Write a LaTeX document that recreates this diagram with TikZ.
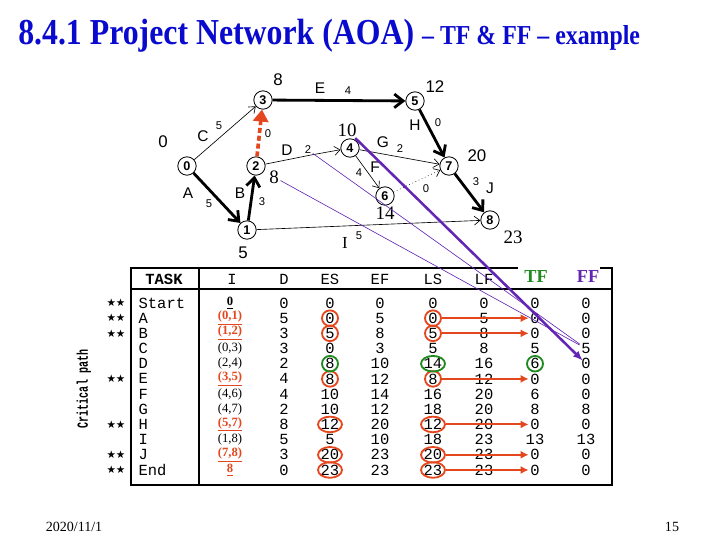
\documentclass[tikz,border=0pt]{standalone}
\usepackage{fontspec}
\setmainfont{Liberation Serif}
\setsansfont{Liberation Sans}
\setmonofont{Liberation Mono}
\newfontfamily\symfont{DejaVu Sans}
\usepackage{tikz}
\usetikzlibrary{arrows.meta,positioning,shapes.geometric}
\definecolor{TitleBlue}{HTML}{0A0ACF}
\definecolor{RedOr}{HTML}{E4471E}
\definecolor{GreenC}{HTML}{1F8A1F}
\definecolor{PurpleC}{HTML}{6326B4}
\newcommand{\critid}[1]{\textcolor{RedOr}{\textbf{\underline{#1}}}}
\tikzset{
  evtnode/.style={circle, draw, line width=0.6pt, minimum size=4.6mm, inner sep=0pt, fill=white, font=\sffamily\bfseries\fontsize{9}{9}\selectfont},
  timesans/.style={inner sep=1pt, font=\sffamily\fontsize{12}{12}\selectfont},
  timeserif/.style={inner sep=1pt, font=\fontsize{13.5}{13.5}\selectfont},
  actlbl/.style={inner sep=1pt, font=\sffamily\fontsize{11}{11}\selectfont},
  durlbl/.style={inner sep=1pt, font=\sffamily\fontsize{8}{8}\selectfont},
  critarrow/.style={-{Straight Barb[length=2.2mm,width=3.4mm]}, line width=2pt},
  thinarrow/.style={-{Straight Barb[length=1.4mm,width=2.2mm]}, line width=0.45pt},
  dummyarrow/.style={-{Triangle[length=3mm,width=3.8mm]}, line width=2.6pt, draw=RedOr, dash pattern=on 3.6pt off 2pt},
  hdrcell/.style={inner sep=1pt, font=\ttfamily\fontsize{11}{11}\selectfont},
  taskcell/.style={inner sep=1pt, anchor=west, font=\ttfamily\fontsize{11}{11}\selectfont},
  idcell/.style={inner sep=1pt, font=\fontsize{9}{9}\selectfont},
  numcell/.style={inner sep=1pt, font=\ttfamily\fontsize{11}{11}\selectfont},
  critring/.style={ellipse, draw=RedOr, line width=1.3pt, minimum height=3.9mm, inner sep=0pt},
  greenring/.style={ellipse, draw=GreenC, line width=1.3pt, minimum height=3.9mm, inner sep=0pt},
  slackarrow/.style={-{Latex[length=2mm,width=2mm]}, line width=1.4pt, draw=RedOr},
  purplethick/.style={-{Latex[length=2.4mm,width=2mm]}, line width=1.8pt, draw=PurpleC},
  purplethin/.style={line width=0.45pt, draw=PurpleC},
  starlbl/.style={inner sep=0pt, font=\symfont\fontsize{7.5}{7.5}\selectfont},
}
\begin{document}
\begin{tikzpicture}[x=0.25mm,y=-0.25mm]
\useasboundingbox (0,0) rectangle (720,540);
\node[anchor=base west, inner sep=0pt, text=TitleBlue, font=\bfseries] (title) at (18,44)
  {\scalebox{0.87}[1]{\fontsize{26}{28}\selectfont 8.4.1 Project Network (AOA) \fontsize{19.5}{22}\selectfont -- TF \& FF -- example}};

% events
\node[evtnode] (n0) at (187,166) {0};
\node[evtnode] (n1) at (247,230) {1};
\node[evtnode] (n2) at (256,166) {2};
\node[evtnode] (n3) at (263,100) {3};
\node[evtnode] (n4) at (350,148) {4};
\node[evtnode] (n5) at (415,101) {5};
\node[evtnode] (n6) at (385,196) {6};
\node[evtnode] (n7) at (449,166) {7};
\node[evtnode] (n8) at (490,220) {8};

% event times
\node[timesans] (t0) at (163,142) {0};
\node[timesans] (t3) at (278,80) {8};
\node[timeserif] (t2) at (274,177) {8};
\node[timesans] (t1) at (243,253) {5};
\node[timeserif] (t4) at (347,130) {10};
\node[timesans] (t5) at (435,87) {12};
\node[timesans] (t7) at (477,156) {20};
\node[timeserif] (t6) at (385,213) {14};
\node[timeserif] (t8) at (513,237) {23};

% activity names and durations
\node[actlbl] (aC) at (203,136) {C};
\node[durlbl] (dC) at (219,126) {5};
\node[actlbl] (aA) at (188,193) {A};
\node[durlbl] (dA) at (209,204) {5};
\node[actlbl] (aB) at (240,193) {B};
\node[durlbl] (dB) at (262,202) {3};
\node[durlbl] (dX) at (268,134) {0};
\node[actlbl] (aD) at (287,150) {D};
\node[durlbl] (dD) at (308,150) {2};
\node[actlbl] (aE) at (320,88) {E};
\node[durlbl] (dE) at (348,91) {4};
\node[actlbl] (aH) at (415,125) {H};
\node[durlbl] (dH) at (438,123) {0};
\node[actlbl] (aG) at (383,142) {G};
\node[durlbl] (dG) at (400,149) {2};
\node[actlbl] (aF) at (375,167) {F};
\node[durlbl] (dF) at (359,173) {4};
\node[durlbl] (dY) at (426,189) {0};
\node[durlbl] (dJ) at (476,182) {3};
\node[actlbl] (aJ) at (490,188) {J};
\node[actlbl, font=\fontsize{12}{12}\selectfont] (aI) at (345,243) {I};
\node[durlbl] (dI) at (359,236) {5};

\coordinate (kD) at (311,155);
\draw[critarrow] (n0) -- (n1);
\draw[critarrow] (n1) -- (n2);
\draw[critarrow] (n3) -- (n5);
\draw[critarrow] (n5) -- (n7);
\draw[critarrow] (n7) -- (n8);
\draw[dummyarrow] (n2) -- (n3);
\draw[thinarrow] (n0) -- (n3);
\draw[thinarrow] (n2) -- (kD) -- (n4);
\draw[thinarrow] (n4) -- (n7);
\draw[thinarrow] (n4) -- (n6);
\draw[thinarrow, dotted] (n6) -- (n7);
\draw[thinarrow] (n1) -- (n8);

% table frame
\draw[line width=0.8pt] (518,268) -- (131,268) -- (131,485) -- (612,485) -- (612,268) -- (600,268);
\draw[line width=2pt] (131,289) -- (612,289);
\draw[line width=1.8pt] (199,268) -- (199,485);

\node[hdrcell, font=\ttfamily\bfseries\fontsize{11}{11}\selectfont] (hTask) at (164,279) {TASK};
\node[hdrcell] (hI) at (232,279) {I};
\node[hdrcell] (hD) at (284,279) {D};
\node[hdrcell] (hES) at (330,279) {ES};
\node[hdrcell] (hEF) at (380,279) {EF};
\node[hdrcell] (hLS) at (433,279) {LS};
\node[hdrcell] (hLF) at (484,279) {LF};
\node[inner sep=1pt, text=GreenC, font=\bfseries\fontsize{13}{13}\selectfont] (hTF) at (536,277) {TF};
\node[inner sep=1pt, text=PurpleC, font=\bfseries\fontsize{13}{13}\selectfont] (hFF) at (588,277) {FF};

\foreach \vTask/\vI/\vD/\vES/\vEF/\vLS/\vLF/\vTF/\vFF [count=\k] in {
Start/{\textbf{\underline{0}}}/0/0/0/0/0/0/0,
A/{\critid{(0,1)}}/5/0/5/0/5/0/0,
B/{\critid{(1,2)}}/3/5/8/5/8/0/0,
C/{(0,3)}/3/0/3/5/8/5/5,
D/{(2,4)}/2/8/10/14/16/6/0,
E/{\critid{(3,5)}}/4/8/12/8/12/0/0,
F/{(4,6)}/4/10/14/16/20/6/0,
G/{(4,7)}/2/10/12/18/20/8/8,
H/{\critid{(5,7)}}/8/12/20/12/20/0/0,
I/{(1,8)}/5/5/10/18/23/13/13,
J/{\critid{(7,8)}}/3/20/23/20/23/0/0,
End/{\critid{8}}/0/23/23/23/23/0/0}{
  \pgfmathsetmacro\ry{303+15.18*(\k-1)}
  \node[taskcell] (task\k) at (137,\ry) {\vTask};
  \node[idcell] (id\k) at (230,\ry) {\vI};
  \node[numcell] (d\k) at (284,\ry) {\vD};
  \node[numcell] (es\k) at (330,\ry) {\vES};
  \node[numcell] (ef\k) at (380,\ry) {\vEF};
  \node[numcell] (ls\k) at (433,\ry) {\vLS};
  \node[numcell] (lf\k) at (484,\ry) {\vLF};
  \node[numcell] (tf\k) at (535,\ry) {\vTF};
  \node[numcell] (ff\k) at (586,\ry) {\vFF};
}
\foreach \k in {1,2,3,6,9,11,12}
  \node[starlbl] (st\k) at (116,{303+15.18*(\k-1)}) {★★};
\node[rotate=90, inner sep=0pt, font=\ttfamily\bfseries\fontsize{11}{11}\selectfont] (cpath) at (84,389) {\scalebox{0.65}[1]{Critical path}};

% critical rings and slack arrows
\foreach \k/\w in {2/4mm,3/4mm,6/4mm,9/6mm,11/6mm,12/6mm}{
  \node[critring, minimum width=\w] (esr\k) at (es\k) {};
  \node[critring, minimum width=\w] (lsr\k) at (ls\k) {};
  \draw[slackarrow] (lsr\k) -- (tf\k);
}
\node[greenring, minimum width=4mm] (esg5) at (es5) {};
\node[greenring, minimum width=6mm] (lsg5) at (ls5) {};
\node[greenring, minimum width=4mm] (tfg5) at (tf5) {};

% free float pointers
\draw[purplethin] (dD) -- (ff4);
\draw[purplethin] (t2) -- (ff4);
\draw[purplethick, shorten >=-3pt] (t4) -- (ff5);

\node[font=\fontsize{10}{10}\selectfont] (date) at (74,527) {2020/11/1};
\node[font=\fontsize{10}{10}\selectfont] (page) at (672,527) {15};
\end{tikzpicture}
\end{document}
